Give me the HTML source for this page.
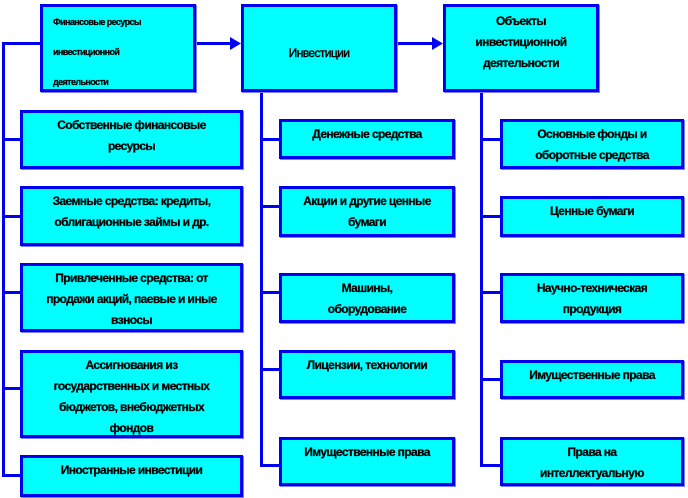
<!DOCTYPE html>
<html><head><meta charset="utf-8"><style>
body{margin:0;width:688px;height:498px;background:#fff;position:relative;overflow:hidden;font-family:"Liberation Sans","DejaVu Sans",sans-serif;}
.b{position:absolute;box-sizing:border-box;background:#00ffff;border:3px solid #0000f0;box-shadow:1px 1px 0 #8080ff;font-size:12px;font-weight:bold;letter-spacing:-0.6px;color:#000;text-align:center;line-height:21px;padding-top:2px;overflow:hidden;-webkit-text-stroke:0.25px #000;}
.l{position:absolute;background:#0000f0;}
</style></head><body>
<div class="l" style="left:2px;top:42px;width:3px;height:435px"></div>
<div class="l" style="left:2px;top:42px;width:39px;height:3px"></div>
<div class="l" style="left:2px;top:138px;width:19px;height:3px"></div>
<div class="l" style="left:2px;top:215px;width:19px;height:3px"></div>
<div class="l" style="left:2px;top:291px;width:19px;height:3px"></div>
<div class="l" style="left:2px;top:387px;width:19px;height:3px"></div>
<div class="l" style="left:2px;top:474px;width:19px;height:3px"></div>

<div class="l" style="left:195px;top:42px;width:38px;height:3px"></div>
<svg style="position:absolute;left:230px;top:37px" width="12" height="13"><polygon points="0,0 11,6.5 0,13" fill="#0000f0"/></svg>
<div class="l" style="left:396px;top:42px;width:38px;height:3px"></div>
<svg style="position:absolute;left:432px;top:37px" width="12" height="13"><polygon points="0,0 11,6.5 0,13" fill="#0000f0"/></svg>

<div class="l" style="left:260px;top:90px;width:3px;height:377px"></div>
<div class="l" style="left:260px;top:138px;width:20px;height:3px"></div>
<div class="l" style="left:260px;top:205px;width:20px;height:3px"></div>
<div class="l" style="left:260px;top:291px;width:20px;height:3px"></div>
<div class="l" style="left:260px;top:368px;width:20px;height:3px"></div>
<div class="l" style="left:260px;top:464px;width:20px;height:3px"></div>

<div class="l" style="left:480px;top:90px;width:3px;height:377px"></div>
<div class="l" style="left:480px;top:138px;width:21px;height:3px"></div>
<div class="l" style="left:480px;top:215px;width:21px;height:3px"></div>
<div class="l" style="left:480px;top:291px;width:21px;height:3px"></div>
<div class="l" style="left:480px;top:378px;width:21px;height:3px"></div>
<div class="l" style="left:480px;top:464px;width:21px;height:3px"></div>

<div class="b" style="left:40px;top:4px;width:156px;height:88px;font-size:9px;text-align:left;padding-left:10px;line-height:30px;padding-top:0">Финансовые ресурсы<br>инвестиционной<br>деятельности</div>
<div class="b" style="left:241px;top:4px;width:156px;height:88px;padding-top:36px;font-weight:normal;-webkit-text-stroke:0.4px #000">Инвестиции</div>
<div class="b" style="left:443px;top:4px;width:156px;height:88px;padding-top:4px">Объекты<br>инвестиционной<br>деятельности</div>

<div class="b" style="left:20px;top:110px;width:223px;height:59px">Собственные финансовые<br>ресурсы</div>
<div class="b" style="left:20px;top:186px;width:223px;height:60px">Заемные средства: кредиты,<br>облигационные займы и др.</div>
<div class="b" style="left:20px;top:263px;width:223px;height:69px">Привлеченные средства: от<br>продажи акций, паевые и иные<br>взносы</div>
<div class="b" style="left:20px;top:350px;width:223px;height:88px">Ассигнования из<br>государственных и местных<br>бюджетов, внебюджетных<br>фондов</div>
<div class="b" style="left:20px;top:455px;width:223px;height:42px">Иностранные инвестиции</div>

<div class="b" style="left:279px;top:119px;width:176px;height:40px">Денежные средства</div>
<div class="b" style="left:279px;top:186px;width:176px;height:51px">Акции и другие ценные<br>бумаги</div>
<div class="b" style="left:279px;top:273px;width:176px;height:50px">Машины,<br>оборудование</div>
<div class="b" style="left:279px;top:350px;width:176px;height:49px">Лицензии, технологии</div>
<div class="b" style="left:279px;top:437px;width:176px;height:49px">Имущественные права</div>

<div class="b" style="left:500px;top:119px;width:184px;height:50px">Основные фонды и<br>оборотные средства</div>
<div class="b" style="left:500px;top:196px;width:184px;height:41px">Ценные бумаги</div>
<div class="b" style="left:500px;top:273px;width:184px;height:50px">Научно-техническая<br>продукция</div>
<div class="b" style="left:500px;top:360px;width:184px;height:39px">Имущественные права</div>
<div class="b" style="left:500px;top:437px;width:184px;height:49px">Права на<br>интеллектуальную</div>
</body></html>
